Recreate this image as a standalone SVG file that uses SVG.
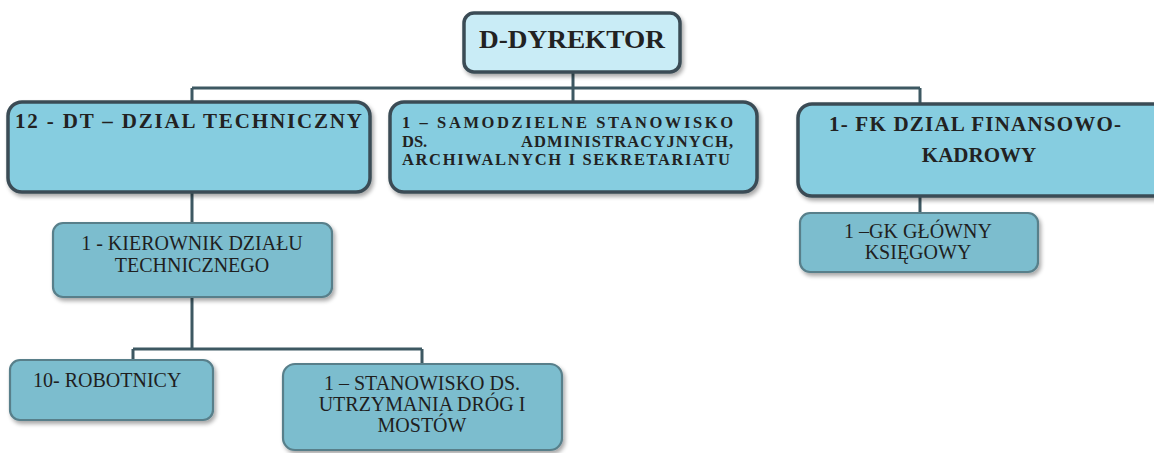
<svg xmlns="http://www.w3.org/2000/svg" width="1154" height="453" viewBox="0 0 1154 453">
<defs>
<filter id="sh" x="-10%" y="-10%" width="120%" height="130%">
<feGaussianBlur in="SourceAlpha" stdDeviation="2"/>
<feOffset dx="2" dy="3" result="o"/>
<feComponentTransfer><feFuncA type="linear" slope="0.35"/></feComponentTransfer>
<feMerge><feMergeNode/><feMergeNode in="SourceGraphic"/></feMerge>
</filter>
<style>
.top{fill:#86cde0;stroke:#3a4c55;stroke-width:3.5;filter:url(#sh)}
.dir{fill:#c9ecf6;stroke:#3a4c55;stroke-width:3.5;filter:url(#sh)}
.low{fill:#7bbdce;stroke:#587f8a;stroke-width:2.2;filter:url(#sh)}
.tb{font-family:"Liberation Serif","DejaVu Serif",serif;font-weight:bold;fill:#222}
.tn{font-family:"Liberation Serif","DejaVu Serif",serif;font-size:20px;fill:#1f1f1f}
.c{stroke:#3d5862;stroke-width:3;fill:none}
</style>
</defs>
<rect width="1154" height="453" fill="#ffffff"/>
<g id="connectors">
<path class="c" d="M573 72 V88 M192 88 H920 M192 88 V102 M573 88 V102 M920 88 V104"/>
<path class="c" d="M192 192 V223 M920 196 V213"/>
<path class="c" d="M192 297 V349 M133 349 H422 M133 349 V360 M422 349 V364"/>
</g>
<g id="dyrektor">
<rect class="dir" x="464" y="13" width="216" height="59" rx="10"/>
<text class="tb" x="572" y="48" font-size="26" text-anchor="middle" textLength="186" lengthAdjust="spacingAndGlyphs">D-DYREKTOR</text>
</g>
<g id="dt">
<rect class="top" x="8" y="102" width="362" height="90" rx="14"/>
<text class="tb" x="15" y="128" font-size="21" textLength="347" lengthAdjust="spacing">12 - DT – DZIAL TECHNICZNY</text>
</g>
<g id="samodzielne">
<rect class="top" x="390" y="102" width="367" height="90" rx="14"/>
<text class="tb" x="402" y="128" font-size="16.5" textLength="331" lengthAdjust="spacing">1 – SAMODZIELNE STANOWISKO</text>
<text class="tb" x="402" y="146.5" font-size="16.5">DS.</text>
<text class="tb" x="733" y="146.5" font-size="16.5" text-anchor="end" textLength="212" lengthAdjust="spacing">ADMINISTRACYJNYCH,</text>
<text class="tb" x="402" y="165" font-size="16.5" textLength="328" lengthAdjust="spacing">ARCHIWALNYCH I SEKRETARIATU</text>
</g>
<g id="fk">
<rect class="top" x="798" y="104" width="370" height="92" rx="14"/>
<text class="tb" x="975" y="131" font-size="21" text-anchor="middle" textLength="292" lengthAdjust="spacing">1- FK DZIAL FINANSOWO-</text>
<text class="tb" x="979" y="162" font-size="21" text-anchor="middle">KADROWY</text>
</g>
<g id="gk">
<rect class="low" x="800" y="213" width="238" height="59" rx="10"/>
<text class="tn" x="918" y="238" text-anchor="middle">1 –GK GŁÓWNY</text>
<text class="tn" x="918" y="259" text-anchor="middle">KSIĘGOWY</text>
</g>
<g id="kierownik">
<rect class="low" x="53" y="223" width="279" height="74" rx="10"/>
<text class="tn" x="192" y="250" text-anchor="middle">1 - KIEROWNIK DZIAŁU</text>
<text class="tn" x="192" y="272" text-anchor="middle">TECHNICZNEGO</text>
</g>
<g id="robotnicy">
<rect class="low" x="10" y="360" width="203" height="60" rx="10"/>
<text class="tn" x="33" y="387">10- ROBOTNICY</text>
</g>
<g id="stanowisko">
<rect class="low" x="283" y="364" width="279" height="86" rx="12"/>
<text class="tn" x="422" y="390" text-anchor="middle">1 – STANOWISKO DS.</text>
<text class="tn" x="422" y="411" text-anchor="middle">UTRZYMANIA DRÓG I</text>
<text class="tn" x="422" y="432" text-anchor="middle">MOSTÓW</text>
</g>
</svg>
